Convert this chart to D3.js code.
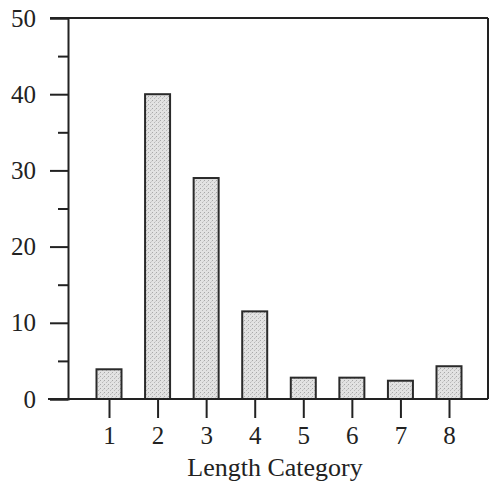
<!DOCTYPE html>
<html>
<head>
<meta charset="utf-8">
<script src="https://cdn.jsdelivr.net/npm/d3@7"></script>
<style>
	body { margin: 0; background: #fff; }
	svg { display: block; }
	text { font-family: "Liberation Serif", "Times New Roman", serif; fill: #222; }
</style>
</head>
<body>
<svg id="plot" width="490" height="485"></svg>
<script>
const CATEGORIES = [1, 2, 3, 4, 5, 6, 7, 8];
const COUNTS = [3.9, 40, 29, 11.5, 2.8, 2.8, 2.4, 4.3];
const Y_TICKS = [0, 10, 20, 30, 40, 50];
const Y_MINOR = [5, 15, 25, 35, 45];
const X_TITLE = 'Length Category';

const svg = d3.select('#plot');

/* stipple fill for the bars */
const pat = svg.append('defs').append('pattern')
	.attr('id', 'stip')
	.attr('width', 4).attr('height', 4)
	.attr('patternUnits', 'userSpaceOnUse');
pat.append('rect').attr('width', 4).attr('height', 4).attr('fill', '#e2e2e2');
pat.append('rect').attr('x', 0).attr('y', 0).attr('width', 1).attr('height', 1).attr('fill', '#a8a8a8');
pat.append('rect').attr('x', 2).attr('y', 2).attr('width', 1).attr('height', 1).attr('fill', '#b8b8b8');
pat.append('rect').attr('x', 3).attr('y', 1).attr('width', 1).attr('height', 1).attr('fill', '#cccccc');

const x = d3.scaleLinear().domain([1, 8]).range([109, 449]);
const y = d3.scaleLinear().domain([0, 50]).range([399, 18]);
const left = 68, right = 488;

/* bars */
svg.selectAll('rect.bar')
	.data(CATEGORIES)
	.enter().append('rect')
	.attr('class', 'bar')
	.attr('x', (d) => x(d) - 12.5)
	.attr('width', 25)
	.attr('y', (d, i) => y(COUNTS[i]))
	.attr('height', (d, i) => y(0) - y(COUNTS[i]))
	.attr('fill', 'url(#stip)')
	.attr('stroke', '#2a2a2a')
	.attr('stroke-width', 2);

/* left axis, major and minor ticks */
const yAxis = svg.append('g')
	.attr('transform', `translate(${left},0)`)
	.call(d3.axisLeft(y).tickValues(Y_TICKS).tickSize(18).tickPadding(14).tickFormat(d3.format('d')));
svg.append('g')
	.attr('transform', `translate(${left},0)`)
	.call(d3.axisLeft(y).tickValues(Y_MINOR).tickSize(10).tickFormat(''))
	.select('.domain').remove();
yAxis.selectAll('text').style('font-size', '25px');

/* bottom axis */
const xAxis = svg.append('g')
	.attr('transform', `translate(0,${y(0)})`)
	.call(d3.axisBottom(x).tickValues(CATEGORIES).tickSize(19).tickPadding(8).tickFormat(d3.format('d')));
xAxis.select('.domain').remove();
xAxis.selectAll('text').style('font-size', '25px');

svg.selectAll('.tick line, .domain').attr('stroke', '#222').attr('stroke-width', 2);

/* frame: baseline, top and right edge */
svg.append('line').attr('x1', 48).attr('x2', right).attr('y1', y(0)).attr('y2', y(0))
	.attr('stroke', '#222').attr('stroke-width', 2);
svg.append('line').attr('x1', 50).attr('x2', right).attr('y1', y(50)).attr('y2', y(50))
	.attr('stroke', '#222').attr('stroke-width', 2);
svg.append('line').attr('x1', right).attr('x2', right).attr('y1', y(50)).attr('y2', y(0))
	.attr('stroke', '#222').attr('stroke-width', 2);

/* axis title */
svg.append('text')
	.attr('x', 275)
	.attr('y', 476)
	.attr('text-anchor', 'middle')
	.style('font-size', '26px')
	.text(X_TITLE);
</script>
</body>
</html>
